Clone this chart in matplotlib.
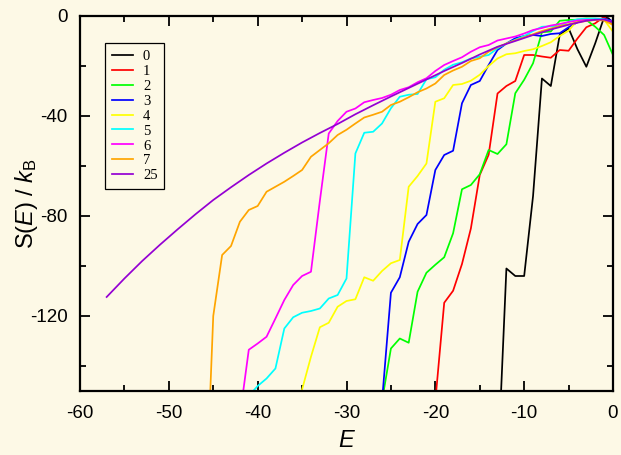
import matplotlib
matplotlib.use("Agg")
import matplotlib.pyplot as plt
from matplotlib.ticker import MultipleLocator

plt.rcParams['font.family'] = ['Liberation Sans', 'DejaVu Sans']
plt.rcParams['mathtext.fontset'] = 'custom'
plt.rcParams['mathtext.rm'] = 'Liberation Sans'
plt.rcParams['mathtext.it'] = 'Liberation Sans:italic'
plt.rcParams['axes.unicode_minus'] = False

BG = '#FDF9E6'

labels = ['0', '1', '2', '3', '4', '5', '6', '7', '25']
colors = ['#000000', '#FF0000', '#00FF00', '#0000FF', '#FFFF00',
          '#00FFFF', '#FF00FF', '#FFA500', '#9400D3']

x0 = [-13, -12, -11, -10, -9, -8, -7, -6, -5, -4, -3, -2, -1, -0.5, 0]
y0 = [-183, -101, -104, -104, -72, -25, -28, -7.6, -4.9, -13.3, -20.3, -10.9, -0.5, -0.9, -2.9]

x1 = [-20, -19, -18, -17, -16, -15, -14, -13, -12, -11, -10, -9, -8, -7, -6, -5, -4, -3, -2, -1, 0]
y1 = [-154, -114.7, -109.9, -99.2, -85, -63.6, -55.5, -31, -28, -26, -15.6, -15.6, -16.2, -16.7,
      -13.6, -13.9, -9, -4.5, -2.9, -0.3, -3.6]

x2 = [-26, -25, -24, -23, -22, -21, -20, -19, -18, -17, -16, -15, -14, -13, -12, -11, -10, -9,
      -8, -7, -6, -5, -4, -3, -2, -1, 0]
y2 = [-154, -133, -129, -130.7, -110.3, -102.7, -99.5, -96.5, -86.9, -69.3, -67.6, -63.3, -53.6,
      -55.2, -51.3, -30.9, -25.5, -18.9, -6.5, -6.2, -1.9, -1.6, -1.5, -1.6, -4.3, -7.6, -15.6]

x3 = [-26, -25, -24, -23, -22, -21, -20, -19, -18, -17, -16, -15, -14, -13, -12, -11, -10, -9,
      -8, -7, -6, -5, -4, -3, -2, -1, 0]
y3 = [-154, -110.7, -104.5, -90.3, -83.2, -79.6, -61.6, -55.6, -53.9, -34.9, -27.6, -26, -19.6,
      -13.6, -11, -8.9, -8, -7.6, -8, -7.2, -6.9, -4.5, -2.5, -1.5, -1.2, -1.1, -2]

x4 = [-35.2, -34, -33, -32, -31, -30, -29, -28, -27, -26, -25, -24, -23, -22, -21, -20, -19, -18,
      -17, -16, -15, -14, -13, -12, -11, -10, -9, -8, -7, -6, -5, -4, -3, -2, -1, 0]
y4 = [-152, -136.3, -124.5, -122.7, -116.3, -114, -113.3, -104.5, -105.9, -102, -98.9, -97.6,
      -68.3, -64, -59, -34.3, -32.9, -27.6, -27.2, -25.9, -23.5, -20, -17, -15.3, -14.9, -14,
      -13.3, -12, -10.5, -8, -5.9, -1.6, -0.9, -1.1, -1.5, -6.3]

x5 = [-41, -40, -39, -38, -37, -36, -35, -34, -33, -32, -31, -30, -29, -28, -27, -26, -25, -24,
      -23, -22, -21, -20, -19, -18, -17, -16, -15, -14, -13, -12, -11, -10, -9, -8, -7, -6, -5,
      -4, -3, -2, -1, 0]
y5 = [-152, -148, -145, -141, -125, -120.5, -118.7, -118, -117, -113, -111.6, -105, -55, -46.7,
      -46.3, -43, -36.9, -32.3, -31.5, -31.2, -25.3, -24.5, -21.5, -19.5, -18.5, -17, -16.3,
      -15.6, -12.9, -11, -9.5, -8, -6, -4.3, -4.1, -4, -2.3, -1.3, -1, -1, -1.3, -2.5]

x6 = [-42, -41, -40, -39, -38, -37, -36, -35, -34, -33, -32, -31, -30, -29, -28, -27, -26, -25,
      -24, -23, -22, -21, -20, -19, -18, -17, -16, -15, -14, -13, -12, -11, -10, -9, -8, -7, -6,
      -5, -4, -3, -2, -1, 0]
y6 = [-160, -133.5, -131, -128.3, -121, -113.6, -107.6, -104, -102.3, -74, -47, -42, -38.3,
      -37, -34.5, -33.6, -32.8, -31.5, -29.6, -28.5, -26.5, -24.9, -22, -19.6, -18, -16.5,
      -14.3, -12.5, -11.6, -9.8, -9, -8.2, -7, -5.6, -4.8, -3.8, -3.2, -2.4, -1.8, -1.6, -1.5,
      -1.7, -2.3]

x7 = [-45.5, -45, -44, -43, -42, -41, -40, -39, -38, -37, -36, -35, -34, -33, -32, -31, -30,
      -29, -28, -27, -26, -25, -24, -23, -22, -21, -20, -19, -18, -17, -16, -15, -14, -13, -12,
      -11, -10, -9, -8, -7, -6, -5, -4, -3, -2, -1, 0]
y7 = [-165, -120, -95.6, -92, -82.3, -77.6, -76, -70.3, -68.3, -66.3, -64, -61.6, -56.3, -53.6,
      -50.9, -47.6, -45.5, -43, -40.6, -39.5, -38.3, -35.6, -34.3, -32.5, -30.5, -29, -27,
      -23.6, -21.8, -20.3, -18, -16.9, -14.3, -12.5, -11, -9.7, -8.5, -7.3, -6, -5, -4, -3.3,
      -2.5, -2, -1.6, -1.8, -3.6]

x25 = [-57, -55, -53, -51, -49, -47, -45, -43, -41, -39, -37, -35, -33, -31, -29, -27, -25,
       -23, -21, -19, -17, -15, -13, -11, -9, -7, -5, -3, -2, -1, 0]
y25 = [-112.4, -105, -98, -91.5, -85.3, -79.3, -73.6, -68.5, -63.6, -59, -54.7, -50.6, -46.8,
       -43.2, -39.3, -35.7, -32.2, -28.8, -25.4, -22, -18.8, -15.4, -12.3, -10, -7.6, -5.4,
       -3.5, -1.9, -1.5, -1.4, -2.4]

xs = [x0, x1, x2, x3, x4, x5, x6, x7, x25]
ys = [y0, y1, y2, y3, y4, y5, y6, y7, y25]

fig = plt.figure(figsize=(6.21, 4.55), dpi=100, facecolor=BG)
ax = fig.add_axes([80 / 621, 1 - 391 / 455, 533 / 621, 375 / 455])
ax.set_facecolor(BG)

for x, y, c, lab in zip(xs, ys, colors, labels):
    ax.plot(x, y, color=c, lw=1.25, label=lab)

ax.set_xlim(-60, 0)
ax.set_ylim(-150, 0)
ax.xaxis.set_major_locator(MultipleLocator(10))
ax.xaxis.set_minor_locator(MultipleLocator(5))
ax.yaxis.set_major_locator(MultipleLocator(40))
ax.yaxis.set_minor_locator(MultipleLocator(20))
ax.tick_params(which='both', direction='in', top=True, right=True, width=1.3,
               labelsize=13.5, colors='black')
ax.tick_params(which='major', length=7.5, pad=9)
ax.tick_params(axis='x', which='major', pad=10)
ax.tick_params(which='minor', length=4)
for s in ax.spines.values():
    s.set_linewidth(1.6)

ax.set_xlabel('$E$', fontsize=17, labelpad=6)
ax.set_ylabel('S($E$) / $k_{\\mathrm{B}}$', fontsize=17)
ax.yaxis.set_label_coords(-0.075, 0.5)

leg = ax.legend(loc='upper left', bbox_to_anchor=(25 / 533, 1 - 27 / 375),
                borderaxespad=0, fancybox=False, framealpha=1, facecolor=BG,
                edgecolor='black', prop={'family': 'Liberation Serif', 'size': 10.5},
                handlelength=1.45, handletextpad=0.7, labelspacing=0.12,
                borderpad=0.45)
leg.get_frame().set_linewidth(0.9)

fig.savefig('out.png', dpi=100, facecolor=BG)
